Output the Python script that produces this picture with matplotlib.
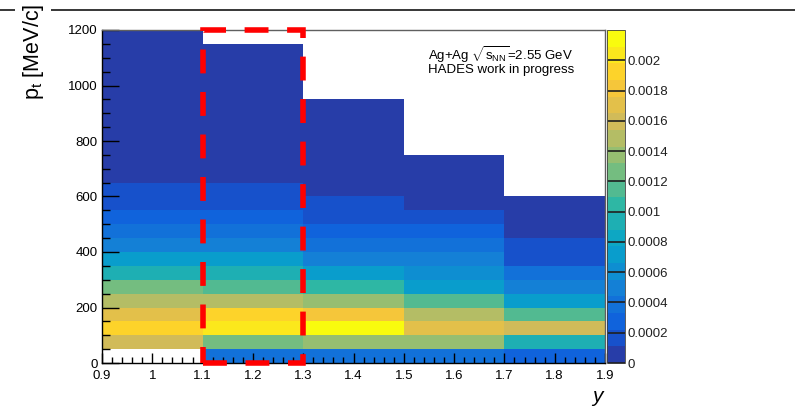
import numpy as np
import matplotlib
matplotlib.use("Agg")
import matplotlib.pyplot as plt
from matplotlib.colors import LinearSegmentedColormap, ListedColormap, BoundaryNorm
from matplotlib.cm import ScalarMappable
from matplotlib.lines import Line2D
from matplotlib.patches import Rectangle
from matplotlib.ticker import MultipleLocator, FormatStrFormatter

plt.rcParams['font.family'] = ['Liberation Sans', 'DejaVu Sans']
plt.rcParams['mathtext.fontset'] = 'custom'
plt.rcParams['mathtext.rm'] = 'Liberation Sans'
plt.rcParams['mathtext.it'] = 'Liberation Sans:italic'
plt.rcParams['mathtext.bf'] = 'Liberation Sans:bold'

# rapidity bins
y_edges = [0.9, 1.1, 1.3, 1.5, 1.7, 1.9]

# pt bin edges (MeV/c) for each rapidity bin
pt_edges_0 = [0, 50, 100, 150, 200, 250, 300, 350, 400, 450, 500, 550, 650, 1200]
pt_edges_1 = [0, 50, 100, 150, 200, 250, 300, 350, 400, 450, 500, 550, 650, 1150]
pt_edges_2 = [0, 50, 100, 150, 200, 250, 300, 350, 400, 450, 500, 550, 600, 950]
pt_edges_3 = [0, 50, 100, 150, 200, 250, 300, 350, 400, 450, 500, 550, 750]
pt_edges_4 = [0, 50, 100, 150, 200, 250, 300, 350, 400, 450, 600]

# bin contents, bottom to top (nan = empty bin)
counts_0 = [np.nan, 0.00160, 0.00193, 0.00171, 0.00149, 0.00127, 0.00094,
            0.00072, 0.00050, 0.00039, 0.00028, 0.00017, 0.00005]
counts_1 = [0.00039, 0.00127, 0.00204, 0.00193, 0.00149, 0.00116, 0.00094,
            0.00072, 0.00050, 0.00039, 0.00028, 0.00017, 0.00005]
counts_2 = [0.00039, 0.00138, 0.00218, 0.00182, 0.00138, 0.00105, 0.00072,
            0.00050, 0.00039, 0.00028, 0.00017, 0.00017, 0.00005]
counts_3 = [0.00039, 0.00138, 0.00171, 0.00149, 0.00116, 0.00072, 0.00061,
            0.00050, 0.00039, 0.00028, 0.00017, 0.00005]
counts_4 = [0.00028, 0.00094, 0.00160, 0.00116, 0.00072, 0.00050, 0.00039,
            0.00017, 0.00017, 0.00005]

pt_edges = [pt_edges_0, pt_edges_1, pt_edges_2, pt_edges_3, pt_edges_4]
counts = [counts_0, counts_1, counts_2, counts_3, counts_4]

z_max = 0.0022
n_contours = 20
cbar_ticks = [0, 0.0002, 0.0004, 0.0006, 0.0008, 0.001, 0.0012, 0.0014,
              0.0016, 0.0018, 0.002]

# ROOT "bird" palette, sampled at the 20 contour levels
stops = [0.0, 0.125, 0.25, 0.375, 0.5, 0.625, 0.75, 0.875, 1.0]
red = [0.2082, 0.0592, 0.0780, 0.0232, 0.1802, 0.5301, 0.8186, 0.9956, 0.9764]
green = [0.1664, 0.3599, 0.5041, 0.6419, 0.7178, 0.7492, 0.7328, 0.7862, 0.9832]
blue = [0.5293, 0.8684, 0.8385, 0.7914, 0.6425, 0.4662, 0.3499, 0.1968, 0.0539]
bird = LinearSegmentedColormap.from_list(
    'bird', list(zip(stops, zip(red, green, blue))), N=255)
level_colors = [bird(min((i + 0.99) / n_contours, 1.0)) for i in range(n_contours)]
cmap = ListedColormap(level_colors)
levels = np.linspace(0, z_max, n_contours + 1)
norm = BoundaryNorm(levels, cmap.N)

W, H = 795, 407
fig = plt.figure(figsize=(W / 100, H / 100), dpi=100)
ax = fig.add_axes([102 / W, 1 - 363 / H, 503 / W, 333 / H])
cax = fig.add_axes([607 / W, 1 - 363 / H, 18 / W, 333 / H])

for i in range(len(counts)):
    vals = np.ma.masked_invalid(np.array(counts[i], dtype=float)).reshape(-1, 1)
    ax.pcolormesh([y_edges[i], y_edges[i + 1]], pt_edges[i], vals,
                  cmap=cmap, norm=norm, shading='flat',
                  linewidth=0, antialiased=False, zorder=1)

ax.set_xlim(0.9, 1.9)
ax.set_ylim(0, 1200)
ax.xaxis.set_major_locator(MultipleLocator(0.1))
ax.xaxis.set_minor_locator(MultipleLocator(0.02))
ax.xaxis.set_major_formatter(FormatStrFormatter('%g'))
ax.yaxis.set_major_locator(MultipleLocator(200))
ax.yaxis.set_minor_locator(MultipleLocator(50))
ax.tick_params(axis='both', which='both', direction='in', colors='black',
               labelsize=9.5, top=False, right=False, zorder=4)
ax.tick_params(axis='y', which='major', length=12, width=1, pad=3)
ax.tick_params(axis='y', which='minor', length=6, width=1)
ax.tick_params(axis='x', which='major', length=7, width=1, pad=5)
ax.tick_params(axis='x', which='minor', length=4, width=1)
for side in ('top', 'right'):
    ax.spines[side].set_color('#606060')
    ax.spines[side].set_linewidth(1.0)
for side in ('left', 'bottom'):
    ax.spines[side].set_color('black')
    ax.spines[side].set_linewidth(1.0)

ax.text(0.995, -0.10, 'y', transform=ax.transAxes, ha='right', va='center',
        fontsize=15, fontstyle='italic')

ax.text(0.648, 0.91, r'Ag+Ag $\sqrt{\mathrm{s}_{\mathrm{NN}}}$=2.55 GeV',
        transform=ax.transAxes, ha='left', va='baseline', fontsize=9.5)
ax.text(0.648, 0.872, 'HADES work in progress',
        transform=ax.transAxes, ha='left', va='baseline', fontsize=9.5)

# selected rapidity window
ax.add_patch(Rectangle((1.1, 0), 0.2, 1200, fill=False, edgecolor='#ff0000',
                       linewidth=4, linestyle=(0, (4.3, 3.35)),
                       clip_on=False, zorder=6))

sm = ScalarMappable(norm=norm, cmap=cmap)
cb = fig.colorbar(sm, cax=cax, ticks=cbar_ticks, format=FormatStrFormatter('%g'))
cb.outline.set_linewidth(0.6)
cb.outline.set_edgecolor('#404040')
cax.tick_params(which='major', direction='in', length=12, width=1.2,
                colors='#202020', labelsize=9.5, pad=2)
cax.tick_params(which='minor', length=0)
cax.minorticks_off()

fig.add_artist(Line2D([0, 1], [1 - 10 / H, 1 - 10 / H], transform=fig.transFigure,
                      color='black', linewidth=1.1, zorder=1))
fig.text(33 / W, 1 - 52 / H, r'p$_{\mathrm{t}}$ [MeV/c]', rotation=90,
         ha='center', va='center', fontsize=15.5, zorder=5,
         bbox=dict(facecolor='white', edgecolor='none', pad=4))

fig.savefig('out.png', dpi=100)
